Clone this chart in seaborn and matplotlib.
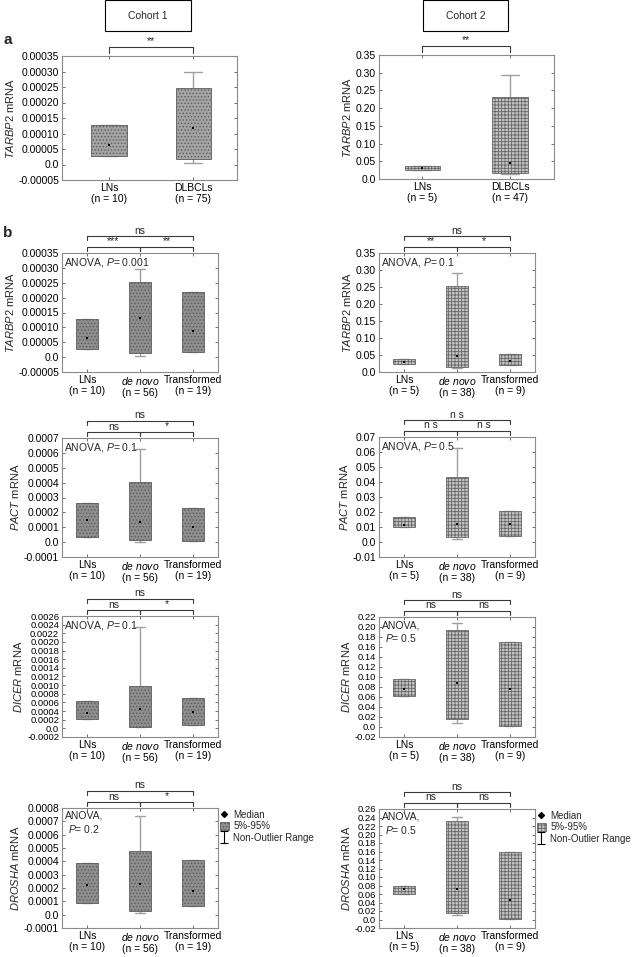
import numpy as np
import matplotlib
matplotlib.use("Agg")
import matplotlib.pyplot as plt
import seaborn as sns
from matplotlib.path import Path
from matplotlib.patches import Rectangle, Patch
from matplotlib.lines import Line2D

sns.set_style("ticks")
plt.rcParams['font.family'] = ['Liberation Sans', 'DejaVu Sans']
plt.rcParams['mathtext.fontset'] = 'custom'
plt.rcParams['mathtext.rm'] = 'Liberation Sans'
plt.rcParams['mathtext.it'] = 'Liberation Sans:italic'
plt.rcParams['hatch.linewidth'] = 0.6

# ---- data: per group (5%, 95%, median, non-outlier min, non-outlier max) ----
groups_a = ["LNs", "DLBCLs"]
n_a_c1 = [10, 75]
n_a_c2 = [5, 47]
groups_b = [r"LNs", r"$\it{de\ novo}$", r"Transformed"]
n_b_c1 = [10, 56, 19]
n_b_c2 = [5, 38, 9]

tarbp2_a_c1 = [(0.000028, 0.000126, 0.0000636, 0.000028, 0.000126),
               (0.000017, 0.000248, 0.000119, 0.000004, 0.000297)]
tarbp2_a_c2 = [(0.024, 0.038, 0.032, 0.024, 0.038),
               (0.017, 0.231, 0.045, 0.015, 0.293)]

tarbp2_c1 = [(0.0000268, 0.000127, 0.0000635, 0.0000268, 0.000127),
             (0.0000134, 0.000253, 0.000130, 0.0000045, 0.000295),
             (0.0000167, 0.000220, 0.000088, 0.0000167, 0.000220)]
tarbp2_c2 = [(0.0235, 0.038, 0.030, 0.0235, 0.038),
             (0.0137, 0.252, 0.048, 0.012, 0.291),
             (0.0196, 0.053, 0.031, 0.0196, 0.053)]

pact_c1 = [(0.000034, 0.000264, 0.000148, 0.000034, 0.000264),
           (0.000011, 0.000403, 0.000136, -0.000002, 0.000626),
           (0.000007, 0.000230, 0.000100, 0.000007, 0.000230)]
pact_c2 = [(0.0102, 0.0168, 0.0113, 0.0102, 0.0168),
           (0.0035, 0.0432, 0.0117, 0.0022, 0.0625),
           (0.0038, 0.0208, 0.0120, 0.0038, 0.0208)]

dicer_c1 = [(0.000210, 0.000644, 0.000357, 0.000210, 0.000644),
            (0.000031, 0.000986, 0.000442, 0.000030, 0.00235),
            (0.000078, 0.000700, 0.000380, 0.000078, 0.000700)]
dicer_c2 = [(0.062, 0.0967, 0.076, 0.062, 0.0967),
            (0.0167, 0.195, 0.089, 0.008, 0.209),
            (0.002, 0.170, 0.076, 0.002, 0.170)]

drosha_c1 = [(0.000088, 0.000386, 0.000222, 0.000088, 0.000386),
             (0.000030, 0.000480, 0.000227, 0.000013, 0.000740),
             (0.000068, 0.000410, 0.000177, 0.000068, 0.000410)]
drosha_c2 = [(0.060, 0.080, 0.0706, 0.060, 0.080),
             (0.015, 0.231, 0.072, 0.010, 0.242),
             (0.002, 0.160, 0.045, 0.002, 0.160)]

genes = ["TARBP2", "TARBP2", "PACT", "DICER", "DROSHA"]
anova_c1 = ["ANOVA, $\\it{P}$= 0.001", "ANOVA, $\\it{P}$= 0.1", "ANOVA, $\\it{P}$= 0.1", "ANOVA,\n$\\it{P}$= 0.2"]
anova_c2 = ["ANOVA, $\\it{P}$= 0.1", "ANOVA, $\\it{P}$= 0.5", "ANOVA,\n$\\it{P}$= 0.5", "ANOVA,\n$\\it{P}$= 0.5"]
sig_a = ["**", "**"]
sig_c1 = [("ns", "***", "**"), ("ns", "ns", "*"), ("ns", "ns", "*"), ("ns", "ns", "*")]
sig_c2 = [("ns", "**", "*"), ("n s", "n s", "n s"), ("ns", "ns", "ns"), ("ns", "ns", "ns")]

# axis ranges (min, max, step, decimals)
yr_c1 = [(-0.00005, 0.00035, 0.00005, 5), (-0.00005, 0.00035, 0.00005, 5),
         (-0.0001, 0.0007, 0.0001, 4), (-0.0002, 0.0026, 0.0002, 4), (-0.0001, 0.0008, 0.0001, 4)]
yr_c2 = [(0.0, 0.35, 0.05, 2), (0.0, 0.35, 0.05, 2),
         (-0.01, 0.07, 0.01, 2), (-0.02, 0.22, 0.02, 2), (-0.02, 0.26, 0.02, 2)]

W, H = 632, 957
fig = plt.figure(figsize=(W / 100, H / 100), dpi=100)

# axes boxes in pixels: left, top, right, bottom
px_c1 = [(62, 56, 237, 180), (62, 253, 218, 372), (62, 438, 218, 557), (62, 616, 218, 737), (62, 808, 218, 928)]
px_c2 = [(379, 55, 554, 179), (379, 253, 535, 372), (379, 437, 535, 557), (379, 617, 535, 737), (379, 809, 535, 928)]

STYLE_C1 = dict(facecolor='#8e8e8e', edgecolor='#5c5c5c', hatch='.....')
STYLE_C2 = dict(facecolor='#c4c4c4', edgecolor='#666666', hatch='+++++')


def make_ax(box):
    l, t, r, b = box
    return fig.add_axes([l / W, 1 - b / H, (r - l) / W, (b - t) / H])


def fmt(v, d):
    if abs(v) < 1e-12:
        return "0.0"
    return f"{v:.{d}f}"


def bracket(ax, x0, x1, dy, text, drop=4):
    h = ax.get_position().height * H
    tr = ax.get_xaxis_transform()
    y = 1 + dy / h
    ax.plot([x0, x0, x1, x1], [y - drop / h, y, y, y - drop / h], transform=tr,
            color='#3a3a3a', lw=0.8, clip_on=False)
    ax.text((x0 + x1) / 2, y + 0.5 / h, text, transform=tr, ha='center', va='bottom', fontsize=7.5)


def panel(ax, data, names, ns, style, yr, gene, width, xlim, small=False):
    pos = list(range(len(data)))
    stats = [dict(q1=d[0], q3=d[1], med=d[2], whislo=d[3], whishi=d[4], fliers=[]) for d in data]
    ax.bxp(stats, positions=pos, widths=width, patch_artist=True, showfliers=False, manage_ticks=False,
           boxprops=dict(linewidth=0.6, zorder=2, **style),
           whiskerprops=dict(color='#a0a0a0', lw=1, zorder=1),
           capprops=dict(color='#a0a0a0', lw=1, zorder=1),
           medianprops=dict(linewidth=0))
    sns.scatterplot(x=pos, y=[d[2] for d in data], ax=ax, color='black', s=3, marker='s',
                    linewidth=0, zorder=5, legend=False)
    lo, hi, step, dec = yr
    ticks = np.round(np.arange(lo, hi + step / 2, step), 8)
    ax.set_ylim(lo, hi)
    ax.set_yticks(ticks)
    ax.set_yticklabels([fmt(v, dec) for v in ticks], fontsize=6.8 if small else 7.5)
    ax.set_xlim(*xlim)
    ax.set_xticks(pos)
    ax.set_xticklabels([f"{nm}\n(n = {n})" for nm, n in zip(names, ns)], fontsize=7.5, linespacing=1.15)
    ax.set_ylabel(f"$\\it{{{gene}}}$ mRNA", fontsize=8, labelpad=2)
    ax.set_xlabel("")
    ax.tick_params(direction='in', length=2, width=0.6, color='#555555', pad=2,
                   top=True, right=True, labelcolor='black')
    for s in ax.spines.values():
        s.set_color('#8a8a8a')
        s.set_linewidth(0.8)


# ---- panel a ----
ax = make_ax(px_c1[0])
panel(ax, tarbp2_a_c1, groups_a, n_a_c1, STYLE_C1 | dict(facecolor='#a4a4a4'), yr_c1[0], genes[0], 0.42, (-0.56, 1.52))
bracket(ax, 0, 1, 9, sig_a[0], drop=6)
ax = make_ax(px_c2[0])
panel(ax, tarbp2_a_c2, groups_a, n_a_c2, STYLE_C2, yr_c2[0], genes[0], 0.4, (-0.49, 1.5))
bracket(ax, 0, 1, 9, sig_a[1], drop=6)

# ---- panel b ----
axes_c1, axes_c2 = [], []
for i in range(4):
    for col, (px, datas, ns, style, yr, anova, sig) in enumerate([
            (px_c1, [tarbp2_c1, pact_c1, dicer_c1, drosha_c1], n_b_c1, STYLE_C1, yr_c1, anova_c1, sig_c1),
            (px_c2, [tarbp2_c2, pact_c2, dicer_c2, drosha_c2], n_b_c2, STYLE_C2, yr_c2, anova_c2, sig_c2)]):
        ax = make_ax(px[i + 1])
        small = (yr[i + 1][1] - yr[i + 1][0]) / yr[i + 1][2] > 10
        panel(ax, datas[i], groups_b, ns, style, yr[i + 1], genes[i + 1], 0.4, (-0.47, 2.47), small)
        bracket(ax, 0, 2, 17, sig[i][0])
        bracket(ax, 0, 1, 6, sig[i][1])
        bracket(ax, 1, 2, 6, sig[i][2])
        if "\n" in anova[i]:
            ax.text(0.14, 0.975, anova[i], transform=ax.transAxes, ha='center', va='top',
                    fontsize=7.5, multialignment='center', linespacing=1.2)
        else:
            ax.text(0.015, 0.975, anova[i], transform=ax.transAxes, ha='left', va='top', fontsize=7.5)
        (axes_c1 if col == 0 else axes_c2).append(ax)

# legends
i_path = Path([(-0.6, 1), (0.6, 1), (0, 1), (0, -1), (-0.6, -1), (0.6, -1)],
              [Path.MOVETO, Path.LINETO, Path.MOVETO, Path.LINETO, Path.MOVETO, Path.LINETO])
for ax, style in [(axes_c1[-1], STYLE_C1), (axes_c2[-1], STYLE_C2)]:
    handles = [Line2D([], [], marker='D', color='black', ls='none', ms=3),
               Patch(linewidth=0.6, **style),
               Line2D([], [], marker=i_path, color='black', ls='none', ms=9, mew=0.8)]
    ax.legend(handles, ["Median", "5%-95%", "Non-Outlier Range"], loc='upper left',
              bbox_to_anchor=(1.01, 0.985), frameon=False, fontsize=7, handlelength=1.0,
              handleheight=0.9, handletextpad=0.4, labelspacing=0.15, borderaxespad=0, borderpad=0)

# cohort header boxes and panel letters
for x0, x1, label in [(105, 191, "Cohort 1"), (423, 508, "Cohort 2")]:
    fig.add_artist(Rectangle((x0 / W, 1 - 31 / H), (x1 - x0) / W, 30.5 / H, transform=fig.transFigure,
                             fill=False, edgecolor='black', lw=0.8))
    fig.text((x0 + x1) / 2 / W, 1 - 16 / H, label, ha='center', va='center', fontsize=7.5)
fig.text(3 / W, 1 - 40 / H, "a", fontsize=11, fontweight='bold', va='center')
fig.text(3 / W, 1 - 233 / H, "b", fontsize=11, fontweight='bold', va='center')

fig.savefig("out.png", dpi=100)
